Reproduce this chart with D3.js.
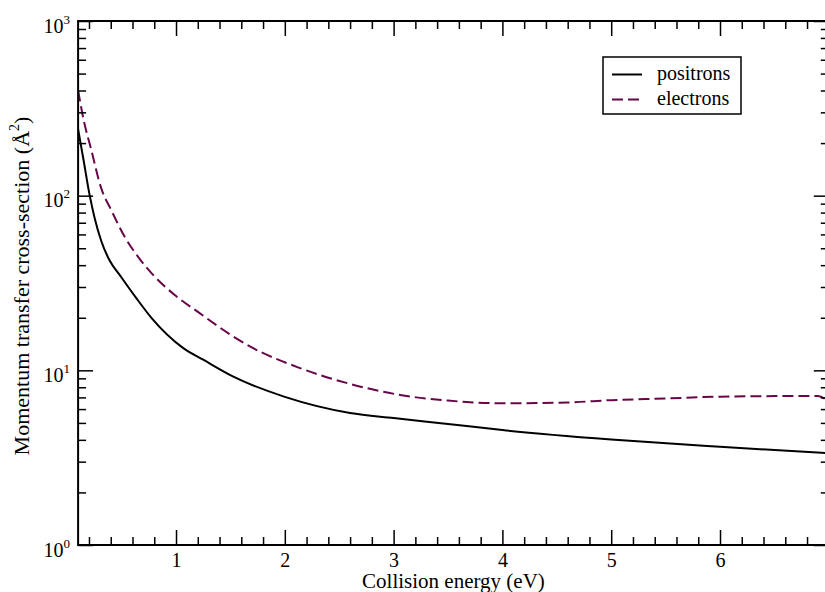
<!DOCTYPE html>
<html>
<head>
<meta charset="utf-8">
<script src="https://cdn.jsdelivr.net/npm/d3@7"></script>
<style>
html,body{margin:0;padding:0;background:#fff;overflow:hidden;}
svg{display:block;font-family:"Liberation Serif","Times New Roman",serif;}
</style>
</head>
<body>
<svg id="chart" width="825" height="592"></svg>
<script>
// ---- data ----
const positronsX = [0.1, 0.15, 0.207, 0.253, 0.313, 0.39, 0.482, 0.559, 0.635, 0.776, 1.067, 1.25, 1.527, 2.0, 2.6, 3.0, 3.5, 4.0, 5.0, 6.0, 7.0];
const positronsY = [240, 160, 100, 74, 55, 42.5, 35.2, 30.1, 25.9, 19.9, 13.4, 11.5, 9.2, 7.05, 5.7, 5.33, 4.93, 4.55, 4.02, 3.65, 3.35];
const electronsX = [0.1, 0.15, 0.221, 0.313, 0.405, 0.528, 0.65, 0.804, 0.988, 1.22, 1.5, 1.68, 2.14, 2.6, 3.06, 3.5, 4.0, 4.6, 5.0, 5.5, 6.0, 6.5, 6.9, 7.0];
const electronsY = [400, 273, 183, 110, 82.6, 58.2, 44.8, 34.4, 27.0, 21.2, 16.0, 13.7, 10.3, 8.36, 7.23, 6.71, 6.48, 6.55, 6.75, 6.9, 7.07, 7.12, 7.13, 6.6];
const seriesNames = ["positrons", "electrons"];
const xMajorTicks = [1, 2, 3, 4, 5, 6, 7];
const xMinorTicks = [0.2,0.4,0.6,0.8,1.2,1.4,1.6,1.8,2.2,2.4,2.6,2.8,3.2,3.4,3.6,3.8,4.2,4.4,4.6,4.8,5.2,5.4,5.6,5.8,6.2,6.4,6.6,6.8];
const yMajorTicks = [1, 10, 100, 1000];
const yMajorExponents = ["0", "1", "2", "3"];
const yMinorTicks = [2,3,4,5,6,7,8,9,20,30,40,50,60,70,80,90,200,300,400,500,600,700,800,900];
const xTitle = "Collision energy (eV)";
const yTitle = "Momentum transfer cross-section (Å";

// ---- layout ----
const svg = d3.select("#chart");
const L = 78.1, R = 828.8, T = 21, B = 545;
const x = d3.scaleLinear().domain([0.1, 7]).range([L, R]);
const y = d3.scaleLog().domain([1, 1000]).range([B, T]);

const colors = ["#000000", "#670748"];

// clip
svg.append("defs").append("clipPath").attr("id","clip")
  .append("rect").attr("x",L).attr("y",T).attr("width",R-L).attr("height",B-T);

// curves
const line = d3.line().x(d=>x(d[0])).y(d=>y(d[1])).curve(d3.curveMonotoneX);
const posData = positronsX.map((v,i)=>[v, positronsY[i]]);
const elData = electronsX.map((v,i)=>[v, electronsY[i]]);
const g = svg.append("g").attr("clip-path","url(#clip)");
g.append("path").datum(posData).attr("d",line).attr("fill","none")
  .attr("stroke",colors[0]).attr("stroke-width",2);
g.append("path").datum(elData).attr("d",line).attr("fill","none")
  .attr("stroke",colors[1]).attr("stroke-width",2).attr("stroke-dasharray","11,5");

// axes
function styleAxis(sel){
  sel.attr("font-family","'Liberation Serif',serif");
  sel.select(".domain").remove();
  sel.selectAll(".tick line").attr("stroke","#000").attr("stroke-width",1.5);
  sel.selectAll("text").attr("font-family","'Liberation Serif',serif").attr("font-size",20).attr("fill","#000");
}
const axB = svg.append("g").attr("transform",`translate(0,${B})`)
  .call(d3.axisBottom(x).tickValues(xMajorTicks).tickSize(-15).tickPadding(8).tickFormat(d3.format("d")));
styleAxis(axB);
const axBm = svg.append("g").attr("transform",`translate(0,${B})`)
  .call(d3.axisBottom(x).tickValues(xMinorTicks).tickSize(-8).tickFormat(""));
styleAxis(axBm);
const axT = svg.append("g").attr("transform",`translate(0,${T})`)
  .call(d3.axisTop(x).tickValues(xMajorTicks).tickSize(-15).tickFormat(""));
styleAxis(axT);
const axTm = svg.append("g").attr("transform",`translate(0,${T})`)
  .call(d3.axisTop(x).tickValues(xMinorTicks).tickSize(-8).tickFormat(""));
styleAxis(axTm);
const axL = svg.append("g").attr("transform",`translate(${L},0)`)
  .call(d3.axisLeft(y).tickValues(yMajorTicks).tickSize(-15).tickFormat(""));
styleAxis(axL);
const axLm = svg.append("g").attr("transform",`translate(${L},0)`)
  .call(d3.axisLeft(y).tickValues(yMinorTicks).tickSize(-8).tickFormat(""));
styleAxis(axLm);
const axR = svg.append("g").attr("transform",`translate(${R},0)`)
  .call(d3.axisRight(y).tickValues(yMajorTicks).tickSize(-15).tickFormat(""));
styleAxis(axR);
const axRm = svg.append("g").attr("transform",`translate(${R},0)`)
  .call(d3.axisRight(y).tickValues(yMinorTicks).tickSize(-8).tickFormat(""));
styleAxis(axRm);

// y tick labels 10^n
yMajorTicks.forEach((v,i)=>{
  const t = svg.append("text").attr("x",70).attr("y",y(v)+11.5)
    .attr("text-anchor","end").attr("font-size",20).attr("fill","#000");
  t.append("tspan").text("10");
  t.append("tspan").attr("font-size",13).attr("dy",-9).text(yMajorExponents[i]);
});

// frame
svg.append("rect").attr("x",L).attr("y",T).attr("width",R-L).attr("height",B-T)
  .attr("fill","none").attr("stroke","#000").attr("stroke-width",2);

// axis titles
svg.append("text").attr("x",(L+R)/2).attr("y",588).attr("text-anchor","middle")
  .attr("font-size",21).attr("fill","#000").text(xTitle);
const yt = svg.append("text").attr("transform","translate(29,286) rotate(-90)")
  .attr("text-anchor","middle").attr("font-size",22).attr("fill","#000");
yt.append("tspan").text(yTitle);
yt.append("tspan").attr("font-size",14).attr("dy",-10).text("2");
yt.append("tspan").attr("dy",10).text(")");

// legend
const lg = svg.append("g");
lg.append("rect").attr("x",603).attr("y",57).attr("width",138).attr("height",57)
  .attr("fill","#fff").attr("stroke","#000").attr("stroke-width",1.5);
const legY = [74.5, 99.5];
seriesNames.forEach((n,i)=>{
  lg.append("line").attr("x1",612).attr("x2",642).attr("y1",legY[i]).attr("y2",legY[i])
    .attr("stroke",colors[i]).attr("stroke-width",2)
    .attr("stroke-dasharray", i===1 ? "11,5" : null);
  lg.append("text").attr("x",657).attr("y",legY[i]+5.5).attr("font-size",20)
    .attr("fill","#000").text(n);
});
</script>
</body>
</html>
